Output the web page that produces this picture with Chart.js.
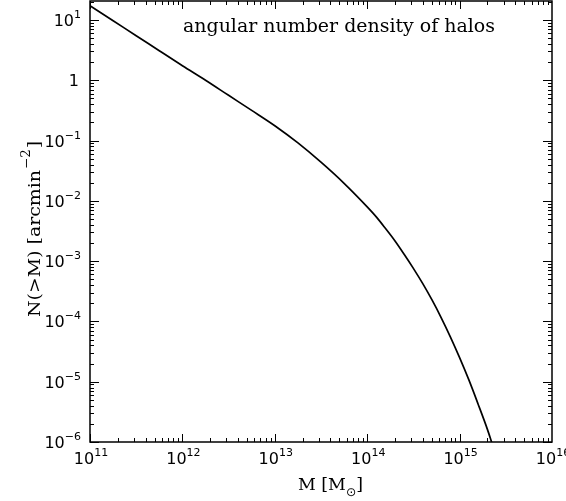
<!DOCTYPE html>
<html>
<head>
<meta charset="utf-8">
<script src="https://cdn.jsdelivr.net/npm/chart.js@4.4.1/dist/chart.umd.min.js"></script>
<style>
  html, body { margin: 0; padding: 0; background: #fff; }
  #wrap { width: 566px; height: 501px; }
</style>
</head>
<body>
<div id="wrap"><canvas id="c" width="566" height="501"></canvas></div>
<script>
// Halo mass threshold M [M_sun]
const massValues = [1e11, 1.78e11, 3.16e11, 5.62e11, 1e12, 1.78e12, 3.16e12, 5.62e12,
                    1e13, 1.78e13, 3.16e13, 5.62e13, 1e14, 1.26e14, 1.58e14, 2.0e14, 2.51e14,
                    3.16e14, 3.98e14, 5.01e14, 6.31e14, 7.94e14, 1e15, 1.26e15, 1.58e15, 2.0e15, 2.24e15];
// Cumulative angular number density N(>M) [arcmin^-2]
const densityValues = [17.2, 9.7, 5.47, 3.09, 1.74, 1.0, 0.562, 0.316,
                       0.176, 0.0912, 0.0437, 0.0195, 0.00794, 0.00537, 0.00347, 0.00216, 0.0013,
                       7.59e-4, 4.27e-4, 2.29e-4, 1.16e-4, 5.56e-5, 2.51e-5, 1.07e-5, 4.32e-6, 1.62e-6, 9.55e-7];

// Decade exponents for the labelled ticks
const xTickExponents = [11, 12, 13, 14, 15, 16];
const yTickExponents = [-6, -5, -4, -3, -2, -1, 0, 1];

const titleText = 'angular number density of halos';

const SUP = { '-': '\u2212' };
function supText(e) { return String(e).split('').map(ch => SUP[ch] || ch).join(''); }

// Draws a string squeezed/stretched horizontally to a target width
function fitText(ctx, text, x, y, targetW) {
  const w = ctx.measureText(text).width;
  ctx.save();
  ctx.translate(x, y);
  ctx.scale(targetW / w, 1);
  ctx.fillText(text, 0, 0);
  ctx.restore();
}

const framePlugin = {
  id: 'frame',
  afterDraw(chart) {
    const { ctx, chartArea: a, scales: { x, y } } = chart;
    ctx.save();
    ctx.strokeStyle = '#000';
    ctx.fillStyle = '#000';
    ctx.lineWidth = 1.5;
    ctx.strokeRect(a.left, a.top, a.right - a.left, a.bottom - a.top);

    // inward tick marks on all four sides
    ctx.lineWidth = 1;
    ctx.beginPath();
    for (let d = 11; d < 16; d++) {
      for (let k = 1; k <= 9; k++) {
        const px = Math.round(x.getPixelForValue(k * Math.pow(10, d))) + 0.5;
        const len = k === 1 ? 8 : 4;
        ctx.moveTo(px, a.bottom); ctx.lineTo(px, a.bottom - len);
        ctx.moveTo(px, a.top); ctx.lineTo(px, a.top + len);
      }
    }
    for (let d = -6; d <= 1; d++) {
      for (let k = 1; k <= 9; k++) {
        const v = k * Math.pow(10, d);
        if (v > y.max) break;
        const py = Math.round(y.getPixelForValue(v)) + 0.5;
        const len = k === 1 ? 9 : 4;
        ctx.moveTo(a.left, py); ctx.lineTo(a.left + len, py);
        ctx.moveTo(a.right, py); ctx.lineTo(a.right - len, py);
      }
    }
    ctx.stroke();

    // power-of-ten tick labels
    const baseFont = '16px "DejaVu Sans"';
    const supFont = '11px "DejaVu Sans"';
    ctx.textBaseline = 'alphabetic';
    ctx.textAlign = 'left';
    xTickExponents.forEach(e => {
      const px = x.getPixelForValue(Math.pow(10, e));
      ctx.font = baseFont; const wb = ctx.measureText('10').width;
      ctx.font = supFont; const ws = ctx.measureText(supText(e)).width;
      const x0 = px - (wb + ws) / 2 + 1;
      ctx.font = baseFont; ctx.fillText('10', x0, 464);
      ctx.font = supFont; ctx.fillText(supText(e), x0 + wb, 456);
    });
    yTickExponents.forEach(e => {
      const py = y.getPixelForValue(Math.pow(10, e));
      const right = 81;
      const base = py + 6;
      if (e === 0) {
        ctx.font = baseFont; ctx.textAlign = 'right';
        ctx.fillText('1', right - 2, base);
        ctx.textAlign = 'left';
        return;
      }
      ctx.font = supFont; const ws = ctx.measureText(supText(e)).width;
      ctx.font = baseFont; const wb = ctx.measureText('10').width;
      const x0 = right - ws - wb;
      ctx.font = baseFont; ctx.fillText('10', x0, base);
      ctx.font = supFont; ctx.fillText(supText(e), x0 + wb, base - 8);
    });

    // in-plot caption
    ctx.font = '19px "DejaVu Serif"';
    fitText(ctx, titleText, 183, 32, 312);

    // x-axis title: M [M_sun]
    {
      const f = '17px "DejaVu Serif"', fs = '12px "DejaVu Sans"';
      ctx.font = f; const w1 = ctx.measureText('M [M').width; const w3 = ctx.measureText(']').width;
      ctx.font = fs; const w2 = ctx.measureText('\u2299').width;
      const total = w1 + w2 + w3, sx = 65 / total;
      ctx.save();
      ctx.translate(298, 490);
      ctx.scale(sx, 1);
      ctx.font = f; ctx.fillText('M [M', 0, 0);
      ctx.font = fs; ctx.fillText('\u2299', w1, 6);
      ctx.font = f; ctx.fillText(']', w1 + w2, 0);
      ctx.restore();
    }

    // y-axis title: N(>M) [arcmin^-2]
    {
      const f = '17px "DejaVu Serif"', fs = '12px "DejaVu Serif"';
      ctx.font = f; const w1 = ctx.measureText('N(>M) [arcmin').width; const w3 = ctx.measureText(']').width;
      ctx.font = fs; const w2 = ctx.measureText('\u22122').width;
      const total = w1 + w2 + w3, sx = 174 / total;
      ctx.save();
      ctx.translate(40, 317);
      ctx.rotate(-Math.PI / 2);
      ctx.scale(sx, 1);
      ctx.font = f; ctx.fillText('N(>M) [arcmin', 0, 0);
      ctx.font = fs; ctx.fillText('\u22122', w1 + 1, -10);
      ctx.font = f; ctx.fillText(']', w1 + w2 + 2, 0);
      ctx.restore();
    }
    ctx.restore();
  }
};

new Chart(document.getElementById('c'), {
  type: 'line',
  data: {
    datasets: [{
      data: massValues.map((m, i) => ({ x: m, y: densityValues[i] })),
      borderColor: '#000',
      borderWidth: 1.7,
      pointRadius: 0,
      fill: false,
      cubicInterpolationMode: 'monotone'
    }]
  },
  options: {
    responsive: false,
    animation: false,
    devicePixelRatio: 1,
    layout: { padding: { left: 90, right: 14, top: 1, bottom: 59 } },
    plugins: { legend: { display: false }, tooltip: { enabled: false }, title: { display: false } },
    scales: {
      x: {
        type: 'logarithmic', min: 1e11, max: 1e16,
        ticks: { display: false },
        grid: { display: false, drawTicks: false },
        border: { display: false }
      },
      y: {
        type: 'logarithmic', min: 1e-6, max: 20.6,
        ticks: { display: false },
        grid: { display: false, drawTicks: false },
        border: { display: false }
      }
    }
  },
  plugins: [framePlugin]
});
</script>
</body>
</html>
